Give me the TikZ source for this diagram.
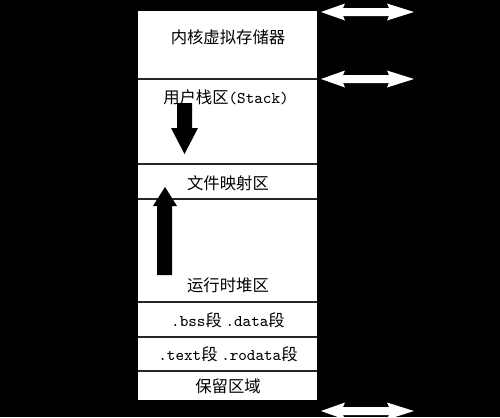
\documentclass[tikz,border=0pt]{standalone}
\usepackage{fontspec}
\newfontfamily\cjkfont{Noto Sans CJK SC}
\newcommand\asc[1]{{\ttfamily #1}}
\begin{document}
\begin{tikzpicture}[x=0.02cm,y=-0.02cm,
  lbl/.style={font=\cjkfont\fontsize{9.3}{10}\selectfont, text=black, inner sep=0pt},
  divider/.style={draw=black!85, line width=1.6pt*0.567},
  blockarrow/.style={fill=black, draw=none},
  dblarrow/.style={fill=white, draw=none}]
\useasboundingbox (0,0) rectangle (500,417);
\fill[black] (0,0) rectangle (500,417);
\begin{scope}
\clip (0,0) rectangle (500,417);
% memory column
\fill[white] (138,11) rectangle (317,400);
\foreach \yy in {79,164,199,302,337,371}
  \draw[divider] (138,\yy) -- (317,\yy);
% labels
\node[lbl] (kernel) at (228,37) {内核虚拟存储器};
\node[lbl] (stack) at (226,97) {用户栈区\asc{(Stack)}};
\node[lbl] (mmap) at (228,183) {文件映射区};
\node[lbl] (heap) at (228,285) {运行时堆区};
\node[lbl] (bss) at (228,320) {\asc{.bss}段 \asc{.data}段};
\node[lbl] (text) at (228,354) {\asc{.text}段 \asc{.rodata}段};
\node[lbl] (reserved) at (228,386) {保留区域};
% stack grows down
\fill[blockarrow] (177,103) -- (192,103) -- (192,128) -- (198,128) -- (184.5,154)
  -- (171,128) -- (177,128) -- cycle;
% heap grows up
\fill[blockarrow] (157,275) -- (172,275) -- (172,206) -- (177,206) -- (165,187)
  -- (153,206) -- (157,206) -- cycle;
% double arrows
\foreach \c in {12,79,411}
  \fill[dblarrow] (321,\c) -- (345,\c-8.5) -- (343,\c-4) -- (389,\c-4) -- (387,\c-8.5)
    -- (414,\c) -- (387,\c+8.5) -- (389,\c+4) -- (343,\c+4) -- (345,\c+8.5) -- cycle;
\end{scope}
\end{tikzpicture}
\end{document}
